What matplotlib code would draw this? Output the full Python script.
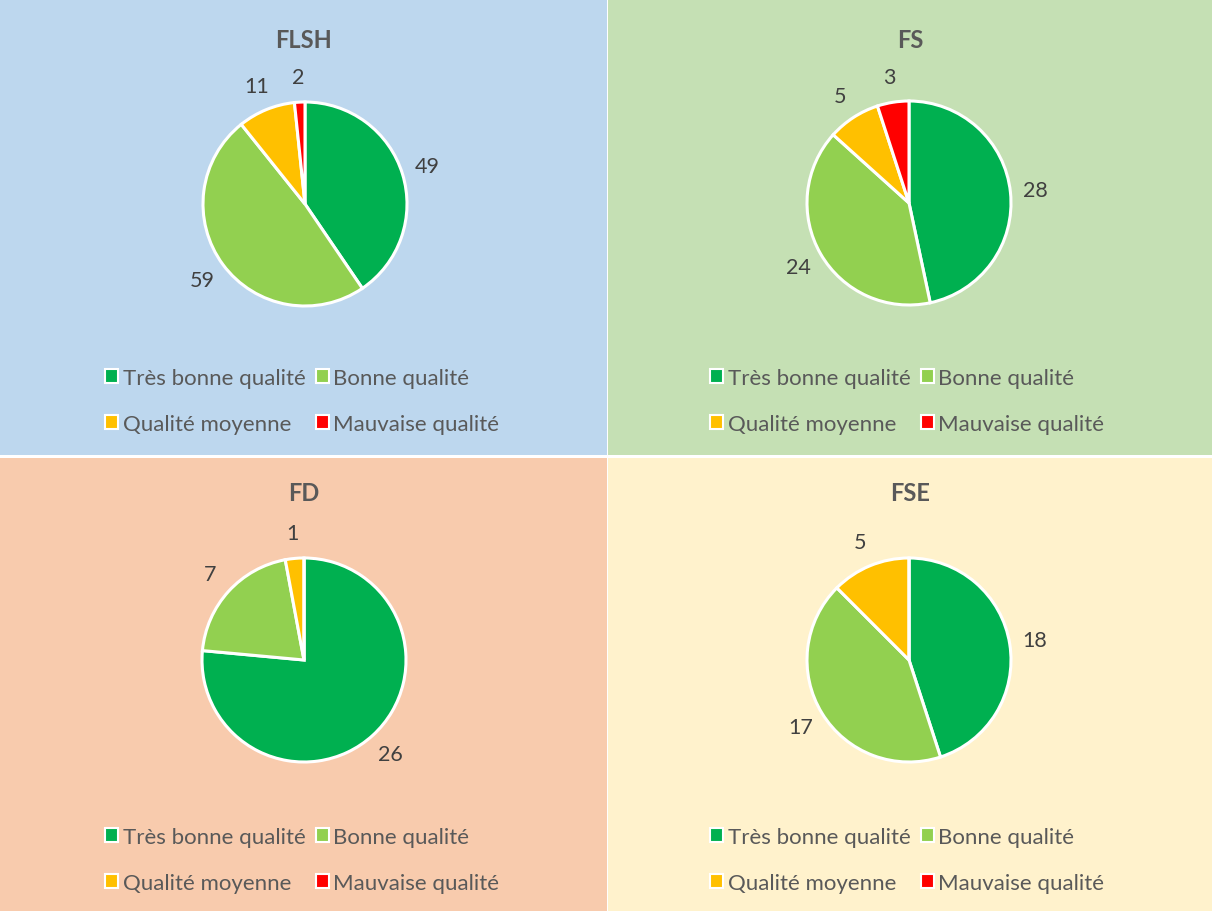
import matplotlib.pyplot as plt
from matplotlib.patches import Rectangle, Patch

plt.rcParams['font.family'] = ['Lato', 'DejaVu Sans']

# data
categories = ["Très bonne qualité", "Bonne qualité", "Qualité moyenne", "Mauvaise qualité"]
titles = ["FLSH", "FS", "FD", "FSE"]
flsh = [49, 59, 11, 2]
fs = [28, 24, 5, 3]
fd = [26, 7, 1, 0]
fse = [18, 17, 5, 0]

colors = ["#00B050", "#92D050", "#FFC000", "#FF0000"]
backgrounds = ["#BDD7EE", "#C5E0B4", "#F8CBAD", "#FFF2CC"]

W, H = 1212, 912
fig = plt.figure(figsize=(W / 100, H / 100), dpi=100)
fig.patch.set_facecolor("white")

# panel boxes in pixels: x0, y0 (top), x1, y1
boxes = [(0, 0, 607, 456), (608, 0, 1212, 456), (0, 459, 607, 912), (608, 459, 1212, 912)]
# pie centres (px, from top), title heights, legend left edge
centres = [(305, 205), (909, 204), (304, 661), (909, 661)]
title_y = [40, 40, 494, 494]
legend_x = [94, 91, 94, 91]
radius = 102

for title, vals, bg, box, (cx, cy), ty, lx in zip(titles, [flsh, fs, fd, fse], backgrounds,
                                                   boxes, centres, title_y, legend_x):
    x0, y0, x1, y1 = box
    fig.add_artist(Rectangle((x0 / W, 1 - y1 / H), (x1 - x0) / W, (y1 - y0) / H,
                             transform=fig.transFigure, facecolor=bg, edgecolor="none", zorder=0))

    ax = fig.add_axes([(cx - radius) / W, 1 - (cy + radius) / H, 2 * radius / W, 2 * radius / H])
    labels = [str(v) if v else "" for v in vals]
    wedges, texts = ax.pie(vals, colors=colors, labels=labels, startangle=90, counterclock=False,
                           labeldistance=1.25,
                           wedgeprops={"edgecolor": "white", "linewidth": 2.2, "clip_on": False},
                           textprops={"fontsize": 15.5, "color": "#404040"})
    for t in texts:
        t.set_horizontalalignment("center")
        t.set_verticalalignment("center")
    ax.set_xlim(-1, 1)
    ax.set_ylim(-1, 1)
    ax.set_aspect("equal")
    ax.axis("off")

    fig.text(((x0 + x1) / 2) / W, 1 - ty / H, title, ha="center", va="center",
             fontsize=17, fontweight="bold", color="#595959")

    # legend, filled column-wise so entries read row by row
    order = [0, 2, 1, 3]
    handles = [Patch(facecolor=colors[i], edgecolor="white", linewidth=1.5) for i in order]
    fig.legend(handles, [categories[i] for i in order], ncol=2,
               loc="center left", bbox_to_anchor=((x0 + lx) / W, 1 - (y0 + 402) / H),
               frameon=False, fontsize=16, labelcolor="#595959",
               handlelength=0.6, handleheight=0.6, handletextpad=0.2,
               columnspacing=0.45, labelspacing=1.15, borderpad=0)

fig.savefig("out.png", dpi=100)
